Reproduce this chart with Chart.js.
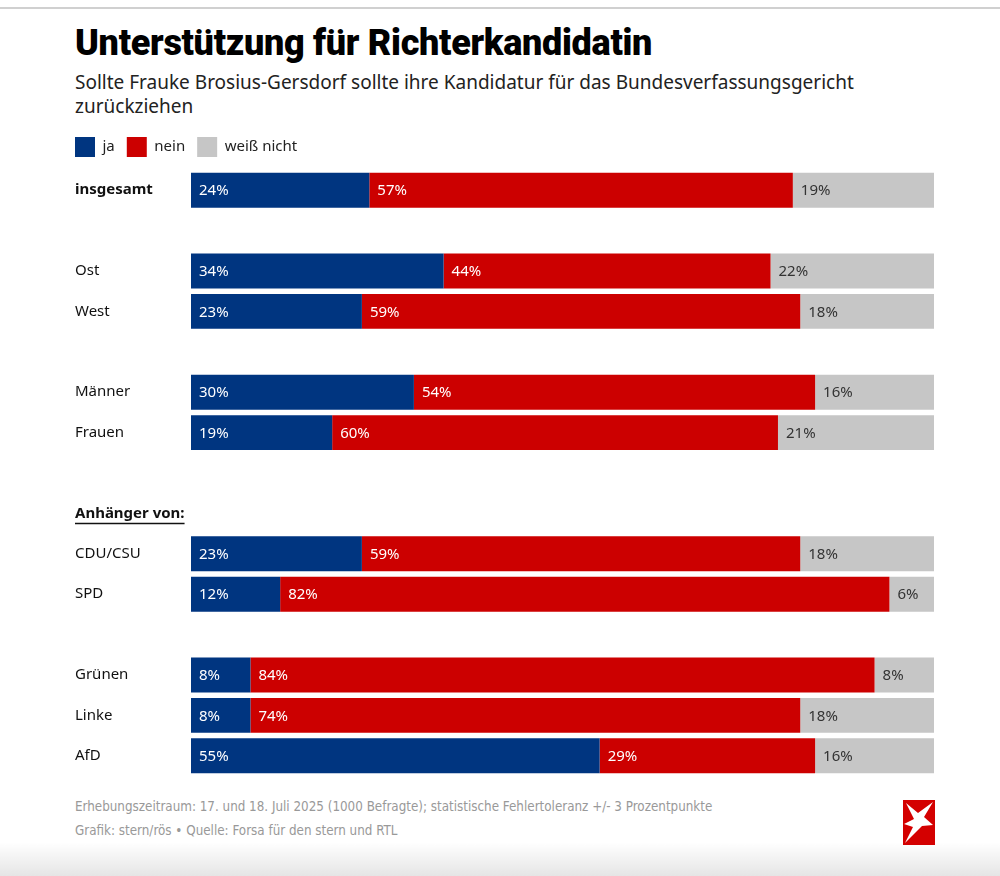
<!DOCTYPE html>
<html lang="de">
<head>
<meta charset="utf-8">
<script src="https://cdn.jsdelivr.net/npm/chart.js@4.4.1/dist/chart.umd.min.js"></script>
<style>
  body { margin: 0; width: 1000px; height: 876px; overflow: hidden; position: relative; background: #fff; font-family: "Noto Sans", sans-serif; color: #111; }
  .topline { position: absolute; left: 0; top: 7px; width: 1000px; height: 2px; background: #d0d0d0; }
  h1 { position: absolute; left: 75px; top: 22px; margin: 0; font: 900 36px Roboto, sans-serif; letter-spacing: -0.3px; color: #000; white-space: nowrap; }
  .sub { position: absolute; left: 75px; top: 70px; width: 880px; margin: 0; font-size: 19px; line-height: 24px; color: #222; }
  #wrap { position: absolute; left: 75px; top: 128px; width: 870px; height: 660px; }
  .foot { position: absolute; left: 75px; font-family: "Liberation Sans Narrow", "DejaVu Sans Condensed", sans-serif; font-size: 13.3px; color: #999; white-space: nowrap; }
  .logo { position: absolute; left: 903px; top: 800px; }
  .shade { position: absolute; left: 0; bottom: 0; width: 1000px; height: 34px; background: linear-gradient(to bottom, rgba(0,0,0,0), rgba(0,0,0,0.10)); }
</style>
</head>
<body>
<div class="topline"></div>
<h1>Unterstützung für Richterkandidatin</h1>
<p class="sub">Sollte Frauke Brosius-Gersdorf sollte ihre Kandidatur für das Bundesverfassungsgericht<br>zurückziehen</p>
<div id="wrap"><canvas id="chart" width="870" height="660"></canvas></div>
<div class="foot" style="top:799px">Erhebungszeitraum: 17. und 18. Juli 2025 (1000 Befragte); statistische Fehlertoleranz +/- 3 Prozentpunkte</div>
<div class="foot" style="top:823px">Grafik: stern/rös • Quelle: Forsa für den stern und RTL</div>
<svg class="logo" width="32" height="45" viewBox="0 0 32 45">
  <rect width="32" height="45" fill="#d40000"/>
  <polygon fill="#fff" points="3,3 15,13 30,2 21,17 30,25 19,26 2,43 10,27 1,24 11,19"/>
</svg>
<div class="shade"></div>
<script>
const categories = ['insgesamt', '', 'Ost', 'West', '', 'Männer', 'Frauen', '', 'Anhänger von:', 'CDU/CSU', 'SPD', '', 'Grünen', 'Linke', 'AfD'];
const ja        = [24, null, 34, 23, null, 30, 19, null, null, 23, 12, null, 8, 8, 55];
const nein      = [57, null, 44, 59, null, 54, 60, null, null, 59, 82, null, 84, 74, 29];
const weissNicht = [19, null, 22, 18, null, 16, 21, null, null, 18, 6, null, 8, 18, 16];

const BLUE = '#003580', RED = '#cc0000', GREY = '#c6c6c6';
const boldRows = ['insgesamt', 'Anhänger von:'];

const valueLabels = {
  id: 'valueLabels',
  afterDatasetsDraw(chart) {
    const ctx = chart.ctx;
    chart.data.datasets.forEach((ds, i) => {
      chart.getDatasetMeta(i).data.forEach((bar, j) => {
        const v = ds.data[j];
        if (v == null) return;
        ctx.save();
        ctx.font = '15px "Noto Sans"';
        ctx.fillStyle = i === 2 ? '#333' : '#fff';
        ctx.textBaseline = 'middle';
        ctx.fillText(v + '%', Math.min(bar.x, bar.base) + 8, bar.y + 1);
        ctx.restore();
      });
    });
  }
};

// underline for the group heading
const headingLine = {
  id: 'headingLine',
  afterDraw(chart) {
    const ctx = chart.ctx, y = chart.scales.y;
    const idx = categories.indexOf('Anhänger von:');
    const py = y.getPixelForValue(idx);
    ctx.save();
    ctx.font = 'bold 15px "Noto Sans"';
    const w = ctx.measureText('Anhänger von:').width;
    ctx.strokeStyle = '#111';
    ctx.lineWidth = 1.5;
    ctx.beginPath();
    ctx.moveTo(y.left, py + 10);
    ctx.lineTo(y.left + w, py + 10);
    ctx.stroke();
    ctx.restore();
  }
};

// pull the legend flush with the row labels
const legendShift = {
  id: 'legendShift',
  afterLayout(chart) {
    chart.legend.left -= 12;
    chart.legend.top -= 3;
  }
};

new Chart(document.getElementById('chart'), {
  type: 'bar',
  data: {
    labels: categories,
    datasets: [
      { label: 'ja', data: ja, backgroundColor: BLUE },
      { label: 'nein', data: nein, backgroundColor: RED },
      { label: 'weiß nicht', data: weissNicht, backgroundColor: GREY }
    ]
  },
  options: {
    indexAxis: 'y',
    responsive: false,
    animation: false,
    barPercentage: 0.865,
    categoryPercentage: 1,
    layout: { padding: { right: 11, bottom: 3 } },
    scales: {
      x: { stacked: true, min: 0, max: 100, display: false },
      y: {
        stacked: true,
        grid: { display: false },
        border: { display: false },
        afterFit: s => { s.width = 116; },
        ticks: {
          crossAlign: 'far',
          color: '#111',
          font: c => ({ family: 'Noto Sans', size: 15, weight: boldRows.includes(categories[c.index]) ? 'bold' : 'normal' })
        }
      }
    },
    plugins: {
      tooltip: { enabled: false },
      legend: {
        align: 'start',
        labels: { boxWidth: 20, boxHeight: 20, padding: 12, color: '#222', font: { family: 'Noto Sans', size: 15 } }
      }
    }
  },
  plugins: [valueLabels, headingLine, legendShift]
});
</script>
</body>
</html>
